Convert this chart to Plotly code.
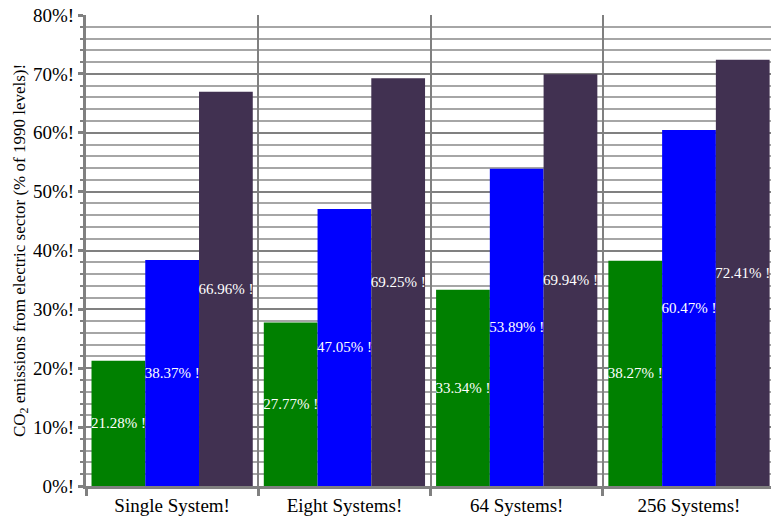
import plotly.graph_objects as go

categories = ["Single System!", "Eight Systems!", "64 Systems!", "256 Systems!"]
green_vals = [21.28, 27.77, 33.34, 38.27]
blue_vals = [38.37, 47.05, 53.89, 60.47]
purple_vals = [66.96, 69.25, 69.94, 72.41]
tick_vals = [0, 10, 20, 30, 40, 50, 60, 70, 80]
tick_text = [f"{v}%!" for v in tick_vals]

serif = "Liberation Serif, Times New Roman, serif"

def label(vals):
    return [f"{v:.2f}% !" for v in vals]

fig = go.Figure()
for vals, color in [(green_vals, "#008000"), (blue_vals, "#0000ff"), (purple_vals, "#413151")]:
    fig.add_trace(go.Bar(
        x=categories, y=vals, marker=dict(color=color, line=dict(width=0)),
        text=label(vals), textposition="inside", insidetextanchor="middle",
        constraintext="none", textangle=0,
        textfont=dict(family=serif, size=15, color="white"),
        showlegend=False,
    ))

fig.update_layout(
    width=771, height=520,
    margin=dict(l=86, r=0, t=15, b=34),
    paper_bgcolor="white", plot_bgcolor="white",
    barmode="group", bargap=0.064, bargroupgap=0,
    font=dict(family=serif, color="black"),
)
fig.update_xaxes(
    range=[-0.5, 3.476], tickson="boundaries",
    ticks="outside", ticklen=7, tickwidth=3, tickcolor="#808080",
    showgrid=True, gridcolor="#808080", gridwidth=2,
    showline=True, linecolor="#808080", linewidth=3,
    tickfont=dict(family=serif, size=19, color="black"),
)
fig.update_yaxes(
    range=[0, 80], tickvals=tick_vals, ticktext=tick_text,
    ticks="outside", ticklen=5, tickwidth=3, tickcolor="#808080",
    showgrid=True, gridcolor="#808080", gridwidth=2,
    minor=dict(dtick=2, showgrid=True, gridcolor="#a6a6a6", gridwidth=1.5,
               ticks="outside", ticklen=3, tickwidth=2, tickcolor="#808080"),
    showline=True, linecolor="#808080", linewidth=3,
    zeroline=False,
    tickfont=dict(family=serif, size=19, color="black"),
    title=dict(text="CO<sub>2</sub> emissions from electric sector (% of 1990 levels)!",
               font=dict(family=serif, size=17, color="black"), standoff=4),
)

fig.write_html("out.html")
